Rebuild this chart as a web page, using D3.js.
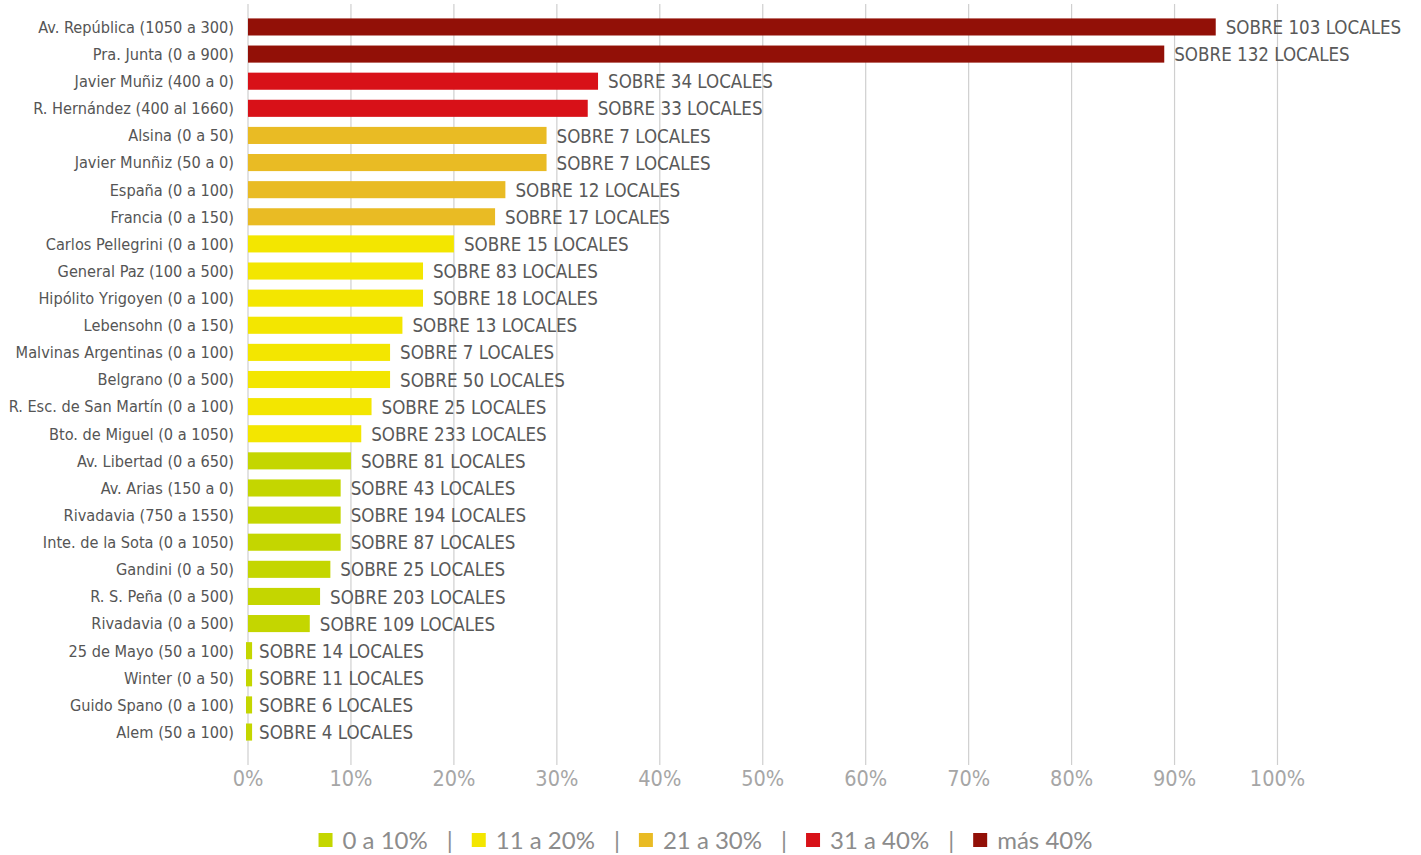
<!DOCTYPE html>
<html>
<head>
<meta charset="utf-8">
<script src="https://cdn.jsdelivr.net/npm/d3@7"></script>
<style>
  body { margin: 0; background: #fff; }
  svg { display: block; }
</style>
</head>
<body>
<div id="chart"></div>
<script>
// Street segments, top to bottom
const calles = [
  "Av. República (1050 a 300)", "Pra. Junta (0 a 900)", "Javier Muñiz (400 a 0)",
  "R. Hernández (400 al 1660)", "Alsina (0 a 50)", "Javier Munñiz (50 a  0)",
  "España (0 a 100)", "Francia (0 a 150)", "Carlos Pellegrini (0 a 100)",
  "General Paz (100 a 500)", "Hipólito Yrigoyen (0 a 100)", "Lebensohn (0 a 150)",
  "Malvinas Argentinas (0 a 100)", "Belgrano (0 a 500)", "R. Esc. de San Martín (0 a 100)",
  "Bto. de Miguel (0 a 1050)", "Av. Libertad (0 a 650)", "Av. Arias (150 a 0)",
  "Rivadavia (750 a 1550)", "Inte. de la Sota (0 a 1050)", "Gandini (0 a 50)",
  "R. S. Peña (0 a 500)", "Rivadavia (0 a 500)", "25 de Mayo (50 a 100)",
  "Winter (0 a 50)", "Guido Spano (0 a 100)", "Alem (50 a 100)"
];

// Percentage
const porcentajes = [
  94, 89, 34, 33, 29, 29, 25, 24, 20, 17, 17, 15, 13.8, 13.8, 12, 11,
  10, 9, 9, 9, 8, 7, 6, 0.3, 0.3, 0.3, 0.3
];

// Number of shops per segment
const locales = [
  103, 132, 34, 33, 7, 7, 12, 17, 15, 83, 18, 13, 7, 50, 25, 233,
  81, 43, 194, 87, 25, 203, 109, 14, 11, 6, 4
];

// Colour band of each bar (index into rangos)
const banda = [
  4, 4, 3, 3, 2, 2, 2, 2, 1, 1, 1, 1, 1, 1, 1, 1,
  0, 0, 0, 0, 0, 0, 0, 0, 0, 0, 0
];

const rangos = ["0 a 10%", "11 a 20%", "21 a 30%", "31 a 40%", "más 40%"];
const coloresRango = ["#c4d600", "#f3e600", "#e9bb24", "#d81118", "#921007"];

const xTicks = [0, 10, 20, 30, 40, 50, 60, 70, 80, 90, 100];

const data = calles.map((c, i) => ({
  calle: c, pct: porcentajes[i], locales: locales[i], banda: banda[i]
}));

const W = 1421, H = 855;
const margin = { top: 13.4, left: 248, right: 143.5, bottom: 109 };
const fuente = "'DejaVu Sans Condensed', 'DejaVu Sans'";

const svg = d3.select("#chart").append("svg")
  .attr("width", W).attr("height", H);

const x = d3.scaleLinear().domain([0, 100]).range([margin.left, W - margin.right]);
const y = d3.scaleBand().domain(calles)
  .range([margin.top, 745.6])
  .paddingInner(0.37).paddingOuter(0.185);

// Vertical grid lines
svg.append("g")
  .selectAll("line")
  .data(xTicks)
  .join("line")
  .attr("x1", d => x(d)).attr("x2", d => x(d))
  .attr("y1", 4).attr("y2", 765)
  .attr("stroke", "#cfcfcf").attr("stroke-width", 1.2);

// X axis labels
svg.append("g")
  .selectAll("text")
  .data(xTicks)
  .join("text")
  .attr("x", d => x(d)).attr("y", 786)
  .attr("text-anchor", "middle")
  .attr("font-family", fuente)
  .attr("font-size", 21.5)
  .attr("fill", "#a6a6a6")
  .text(d => d + "%");

// Bars
svg.append("g")
  .selectAll("rect")
  .data(data)
  .join("rect")
  .attr("x", d => d.pct < 1 ? x(0) - 2 : x(0))
  .attr("y", d => y(d.calle))
  .attr("width", d => d.pct < 1 ? x(d.pct) - x(0) + 3 : x(d.pct) - x(0))
  .attr("height", y.bandwidth())
  .attr("fill", d => coloresRango[d.banda]);

// Category labels
svg.append("g")
  .selectAll("text")
  .data(data)
  .join("text")
  .attr("x", margin.left - 14)
  .attr("y", d => y(d.calle) + y.bandwidth() / 2)
  .attr("dy", "0.36em")
  .attr("text-anchor", "end")
  .attr("font-family", fuente)
  .attr("font-size", 16.2)
  .attr("fill", "#555")
  .text(d => d.calle);

// Value labels
svg.append("g")
  .selectAll("text")
  .data(data)
  .join("text")
  .attr("x", d => x(d.pct) + (d.pct < 1 ? 8 : 10))
  .attr("y", d => y(d.calle) + y.bandwidth() / 2)
  .attr("dy", "0.38em")
  .attr("font-family", fuente)
  .attr("font-size", 18.6)
  .attr("fill", "#595959")
  .text(d => `SOBRE ${d.locales} LOCALES`);

// Legend
const legend = svg.append("g").attr("transform", "translate(0, 840)");
let cursor = 0;
rangos.forEach((r, i) => {
  const g = legend.append("g");
  g.append("rect")
    .attr("x", cursor).attr("y", -7).attr("width", 14).attr("height", 14)
    .attr("fill", coloresRango[i]);
  const t = g.append("text")
    .attr("x", cursor + 24).attr("y", 0).attr("dy", "0.36em")
    .attr("font-family", "Lato, 'Open Sans', sans-serif")
    .attr("font-size", 24)
    .attr("fill", "#8c8c8c")
    .text(r);
  cursor += 24 + t.node().getComputedTextLength();
  if (i < rangos.length - 1) {
    legend.append("text")
      .attr("x", cursor + 22).attr("y", 0).attr("dy", "0.36em")
      .attr("text-anchor", "middle")
      .attr("font-family", "Lato, 'Open Sans', sans-serif")
      .attr("font-size", 24)
      .attr("fill", "#8c8c8c")
      .text("|");
    cursor += 44;
  }
});
legend.attr("transform", `translate(${(320 + 1091) / 2 - cursor / 2}, 840)`);
</script>
</body>
</html>
